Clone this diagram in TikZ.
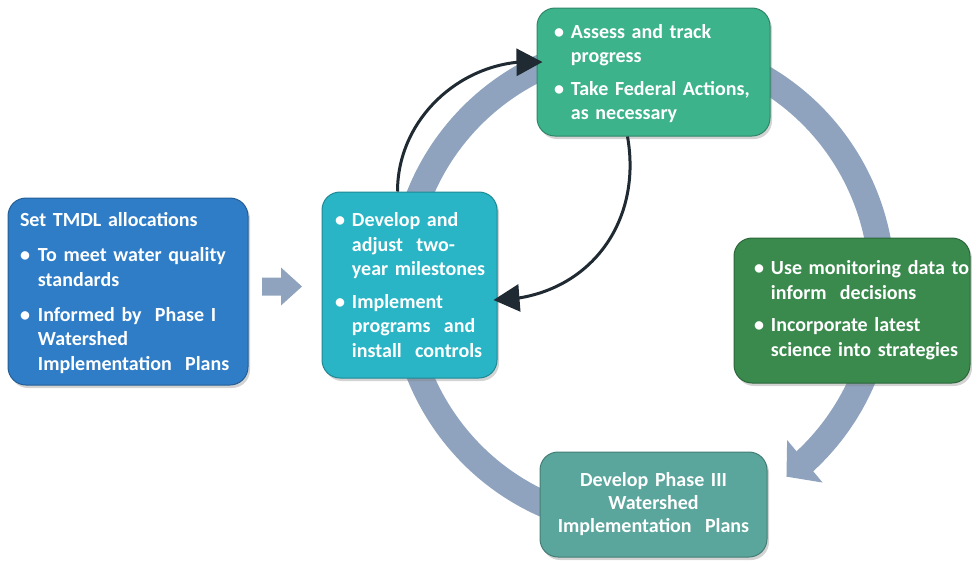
\documentclass[tikz,border=0pt]{standalone}
\usepackage{fontspec}
\setmainfont{Carlito}
\usetikzlibrary{arrows.meta,bending,shadows}
\definecolor{ringc}{HTML}{8FA3BE}
\definecolor{cblue}{HTML}{2F7DC7}
\definecolor{ccyan}{HTML}{29B5C5}
\definecolor{cgreen}{HTML}{3DB38B}
\definecolor{cdgreen}{HTML}{3A8A4D}
\definecolor{cteal}{HTML}{5AA69C}
\definecolor{cdark}{HTML}{1F2A32}
\newcommand\lowr[2]{\raisebox{0pt}[\dimexpr\height+#1\relax][\dimexpr\depth-#1\relax]{#2}}
\tikzset{
  box/.style={rounded corners=18pt, inner ysep=0pt, line width=1pt, text=white,
    font=\bfseries\fontsize{20}{24.5}\selectfont, align=left,
    drop shadow={shadow xshift=2pt, shadow yshift=-3pt, opacity=0.35}},
  blk/.style={cdark, line width=3pt, -{Triangle[length=26pt,width=27pt]}},
  ring/.style={ringc, line width=26pt, -{Triangle[length=24pt,width=54pt,flex]}},
}
\begin{document}
\begin{tikzpicture}[x=1pt,y=1pt]
\useasboundingbox (0,0) rectangle (972,-563);
\coordinate (ctr) at (642,-285);
% ring
\draw[ring] ([shift={(-105:240)}]ctr) arc[start angle=-105, end angle=-413, radius=240];
% block arrow
\coordinate (pa) at (262,-286.5);
\fill[ringc] (pa) ++(0,9) -- ++(19,0) -- ++(0,10) -- ++(21,-19) -- ++(-21,-19) -- ++(0,10) -- ++(-19,0) -- cycle;
% boxes
\node[box, fill=cblue, draw=cblue!75!black, minimum width=240pt, minimum height=187pt,
  inner xsep=12pt, text width=216pt] (tmdl) at (128,-291.5)
  {\lowr{2pt}{\begin{tabular}{@{}l@{\hspace{8pt}}l@{}}
   \multicolumn{2}{@{}l@{}}{Set TMDL allocations}\\[10.5pt]
   •&To meet water quality\\
    &standards\\[10.5pt]
   •&Informed by\ \ Phase I\\
    &Watershed\\
    &Implementation\ \ Plans
   \end{tabular}}};
\node[box, fill=ccyan, draw=ccyan!75!black, minimum width=175pt, minimum height=186pt,
  inner xsep=13pt, text width=149pt] (dev) at (409.5,-285)
  {\lowr{2pt}{\begin{tabular}{@{}l@{\hspace{7pt}}l@{}}
   •&Develop and\\
    &adjust\ \ two-\\
    &year milestones\\[8pt]
   •&Implement\\
    &programs\ \ and\\
    &install\ \ controls
   \end{tabular}}};
\node[box, fill=cgreen, draw=cgreen!75!black, minimum width=233pt, minimum height=128pt,
  inner xsep=17pt, text width=199pt] (assess) at (653.5,-72)
  {\lowr{2pt}{\begin{tabular}{@{}l@{\hspace{7pt}}l@{}}
   •&Assess and track\\
    &progress\\[8pt]
   •&Take Federal Actions,\\
    &as necessary
   \end{tabular}}};
\node[box, fill=cdgreen, draw=cdgreen!75!black, minimum width=236pt, minimum height=145pt,
  inner xsep=20pt, text width=196pt] (mon) at (852,-310.5)
  {\begin{tabular}{@{}l@{\hspace{7pt}}l@{}}
   •&Use monitoring data to\\
    &inform\ \ decisions\\[8pt]
   •&Incorporate latest\\
    &science into strategies
   \end{tabular}};
\node[box, fill=cteal, draw=cteal!75!black, minimum width=227pt, minimum height=105pt,
  inner xsep=10pt, text width=207pt, align=center,
  font=\bfseries\fontsize{20}{23}\selectfont] (ph3) at (653.5,-504.5)
  {Develop Phase III\\Watershed\\Implementation\ \ Plans};
% black arrows
\draw[blk] ([xshift=-12pt]dev.north) to[out=90, in=175] ([xshift=6pt,yshift=10pt]assess.west);
\draw[blk] ([xshift=-26pt]assess.south) to[out=-80, in=0, looseness=1.1] ([xshift=-4pt,yshift=-15pt]dev.east);
\end{tikzpicture}
\end{document}
